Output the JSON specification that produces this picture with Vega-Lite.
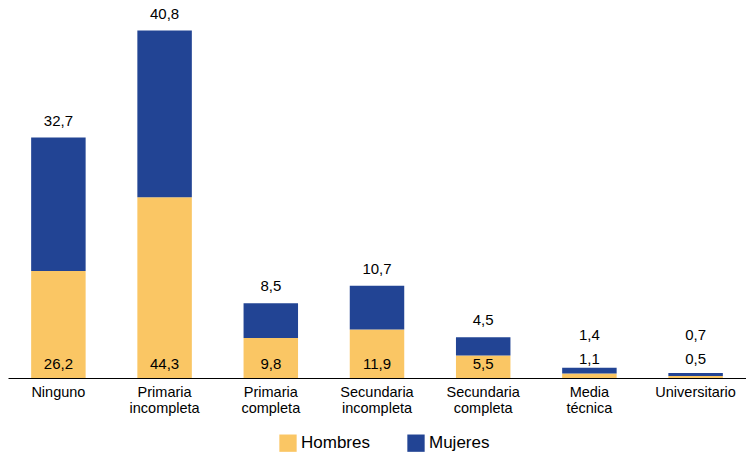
{
  "$schema": "https://vega.github.io/schema/vega-lite/v6.json",
  "autosize": "none",
  "width": 738,
  "height": 378,
  "padding": {"left": 8, "top": 0, "right": 0, "bottom": 74},
  "background": "white",
  "config": {
    "view": {"stroke": null},
    "font": "Liberation Sans",
    "locale": {"number": {"decimal": ",", "thousands": ".", "grouping": [3], "currency": ["$", ""]}}
  },
  "data": {
    "values": [
      {"nivel": "Ninguno", "sexo": "Hombres", "valor": 26.2},
      {"nivel": "Ninguno", "sexo": "Mujeres", "valor": 32.7},
      {"nivel": "Primaria incompleta", "sexo": "Hombres", "valor": 44.3},
      {"nivel": "Primaria incompleta", "sexo": "Mujeres", "valor": 40.8},
      {"nivel": "Primaria completa", "sexo": "Hombres", "valor": 9.8},
      {"nivel": "Primaria completa", "sexo": "Mujeres", "valor": 8.5},
      {"nivel": "Secundaria incompleta", "sexo": "Hombres", "valor": 11.9},
      {"nivel": "Secundaria incompleta", "sexo": "Mujeres", "valor": 10.7},
      {"nivel": "Secundaria completa", "sexo": "Hombres", "valor": 5.5},
      {"nivel": "Secundaria completa", "sexo": "Mujeres", "valor": 4.5},
      {"nivel": "Media técnica", "sexo": "Hombres", "valor": 1.1},
      {"nivel": "Media técnica", "sexo": "Mujeres", "valor": 1.4},
      {"nivel": "Universitario", "sexo": "Hombres", "valor": 0.5},
      {"nivel": "Universitario", "sexo": "Mujeres", "valor": 0.7}
    ]
  },
  "encoding": {
    "x": {
      "field": "nivel",
      "type": "nominal",
      "sort": null,
      "scale": {"paddingInner": 0.487, "paddingOuter": 0.218},
      "axis": {
        "title": null,
        "labelAngle": 0,
        "ticks": false,
        "domainColor": "#000000",
        "domainWidth": 1.2,
        "labelColor": "#000000",
        "labelFont": "Liberation Sans",
        "labelFontSize": 14.5,
        "labelPadding": 7,
        "labelLineHeight": 16,
        "labelBaseline": "top",
        "labelExpr": "split(datum.label, ' ')"
      }
    }
  },
  "layer": [
    {
      "mark": {"type": "bar"},
      "encoding": {
        "y": {
          "field": "valor",
          "type": "quantitative",
          "stack": "zero",
          "scale": {"domain": [0, 92.6], "nice": false, "zero": true},
          "axis": null
        },
        "color": {
          "field": "sexo",
          "type": "nominal",
          "scale": {"domain": ["Hombres", "Mujeres"], "range": ["#FAC664", "#224494"]},
          "legend": {
            "title": null,
            "orient": "none",
            "direction": "horizontal",
            "legendX": 271,
            "legendY": 434,
            "padding": 0,
            "symbolType": "square",
            "symbolSize": 300,
            "symbolStrokeWidth": 0,
            "symbolOpacity": 1,
            "labelFont": "Liberation Sans",
            "labelFontSize": 17,
            "labelColor": "#000000",
            "labelOffset": 4,
            "columnPadding": 37
          }
        },
        "order": {"field": "sexo", "sort": "ascending"}
      }
    },
    {
      "transform": [
        {"joinaggregate": [{"op": "sum", "field": "valor", "as": "total"}], "groupby": ["nivel"]},
        {
          "calculate": "datum.sexo === 'Hombres' ? (datum.valor >= 3 ? 2.2 : 3.4) : (datum.total >= 5 ? datum.total + 2.9 : 9.3)",
          "as": "posicion"
        }
      ],
      "mark": {
        "type": "text",
        "baseline": "alphabetic",
        "align": "center",
        "font": "Liberation Sans",
        "fontSize": 15,
        "color": "#000000"
      },
      "encoding": {
        "y": {"field": "posicion", "type": "quantitative", "scale": {"domain": [0, 92.6], "nice": false}},
        "text": {"field": "valor", "type": "quantitative", "format": ".1f"}
      }
    }
  ]
}
